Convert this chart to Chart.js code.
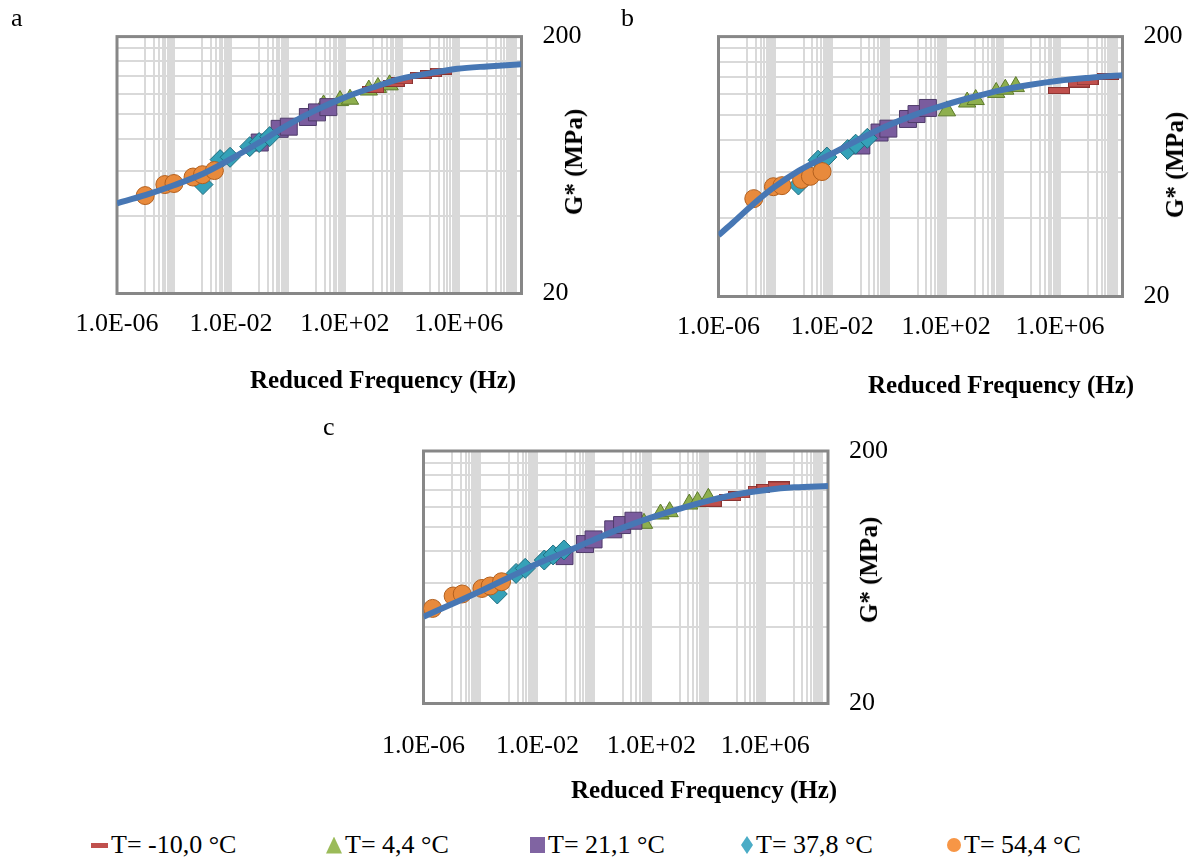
<!DOCTYPE html>
<html>
<head>
<meta charset="utf-8">
<script src="https://cdn.jsdelivr.net/npm/chart.js@4/dist/chart.umd.min.js"></script>
<style>
  body { margin: 0; width: 1192px; height: 858px; background: #fff; position: relative; overflow: hidden;
         font-family: "Liberation Serif", "Times New Roman", serif; color: #000; }
  .box { position: absolute; }
  .panel { position: absolute; font-size: 26px; }
  .xt { position: absolute; font-weight: bold; font-size: 25px; white-space: nowrap; transform: translate(-50%, -50%); }
  .yt { position: absolute; font-weight: bold; font-size: 25px; white-space: nowrap; transform: translate(-50%, -50%) rotate(-90deg); }
  .leg { position: absolute; top: 830px; font-size: 26px; white-space: nowrap; display: flex; align-items: center; }
  .mk { display: inline-block; margin-right: 3px; }
</style>
</head>
<body>
<div class="box" id="boxA"><canvas id="chartA"></canvas></div>
<div class="box" id="boxB"><canvas id="chartB"></canvas></div>
<div class="box" id="boxC"><canvas id="chartC"></canvas></div>

<div class="panel" style="left:11px;top:3px">a</div>
<div class="panel" style="left:621px;top:3px">b</div>
<div class="panel" style="left:323px;top:412px">c</div>

<div class="xt" style="left:383px;top:380px">Reduced Frequency (Hz)</div>
<div class="xt" style="left:1001px;top:385px">Reduced Frequency (Hz)</div>
<div class="xt" style="left:704px;top:790px">Reduced Frequency (Hz)</div>

<div class="yt" style="left:574px;top:162px">G* (MPa)</div>
<div class="yt" style="left:1175px;top:165px">G* (MPa)</div>
<div class="yt" style="left:869px;top:570px">G* (MPa)</div>

<div class="leg" style="left:91px"><span class="mk" style="width:17px;height:5px;background:#C0504D"></span>T= -10,0 °C</div>
<div class="leg" style="left:326px"><span class="mk" style="width:16px;height:17px;background:#9BBB59;clip-path:polygon(50% 0,100% 100%,0 100%)"></span>T= 4,4 °C</div>
<div class="leg" style="left:530px"><span class="mk" style="width:15px;height:16px;background:#8064A2"></span>T= 21,1 °C</div>
<div class="leg" style="left:741px"><span class="mk" style="width:12px;height:18px;background:#4BACC6;clip-path:polygon(50% 0,100% 50%,50% 100%,0 50%)"></span>T= 37,8 °C</div>
<div class="leg" style="left:947px"><span class="mk" style="width:14px;height:14px;border-radius:50%;background:#F79646"></span>T= 54,4 °C</div>

<script>
// axis ticks
const xTickValues = [1e-6, 1e-2, 1e2, 1e6];
const xTickLabels = ['1.0E-06', '1.0E-02', '1.0E+02', '1.0E+06'];
const yTickValues = [20, 200];
const yTickLabels = ['20', '200'];
const yGridValues = [20, 40, 60, 80, 100, 120, 140, 160, 180, 200];

// panel a  (log10 of reduced frequency, G* in MPa)
const aM10LogF = [2.99, 3.71, 4.00, 4.67, 5.02, 5.39];
const aM10G    = [124.6, 131.3, 134.5, 141.4, 143.5, 146.8];
const a4LogF   = [1.25, 1.83, 2.18, 2.84, 3.16, 3.57];
const a4G      = [108.4, 112.7, 114.1, 123.9, 126.8, 129.8];
const a21LogF  = [-0.99, -0.29, 0.03, 0.70, 1.02, 1.42];
const a21G     = [77.4, 87.5, 89.2, 97.3, 101.4, 106.3];
const a37LogF  = [-2.98, -2.38, -2.03, -1.34, -1.01, -0.64];
const a37G     = [53.1, 66.4, 67.8, 74.6, 77.4, 81.6];
const a54LogF  = [-5.01, -4.32, -4.00, -3.33, -3.00, -2.58];
const a54G     = [48.1, 53.1, 53.6, 56.8, 58.0, 60.2];
const aFitLogF = [-6, -5.01, -4, -2.98, -2, -1.01, -0.08, 0.96, 2, 3.05, 3.98, 5.02, 5.95, 6.99, 8.2];
const aFitG    = [44.9, 48.3, 52.8, 58.5, 66.8, 77.4, 89.6, 103.2, 116.0, 127.5, 137.3, 144.2, 149.9, 153.1, 156.0];

// panel b
const bM10LogF = [5.97, 6.67, 6.97, 7.68];
const bM10G    = [124.0, 131.4, 134.0, 140.6];
const b4LogF   = [2.03, 2.74, 3.04, 3.76, 4.08, 4.45];
const b4G      = [103.6, 112.0, 114.5, 122.0, 125.5, 128.4];
const b21LogF  = [-0.98, -0.34, -0.03, 0.66, 0.96, 1.36];
const b21G     = [76.2, 85.5, 88.5, 96.4, 100.7, 106.3];
const b37LogF  = [-3.19, -2.50, -2.19, -1.46, -1.18, -0.77];
const b37G     = [53.7, 66.9, 68.8, 73.5, 77.1, 81.2];
const b54LogF  = [-4.76, -4.07, -3.77, -3.08, -2.77, -2.36];
const b54G     = [47.6, 52.9, 53.4, 56.4, 58.0, 60.5];
const bFitLogF = [-6, -5.48, -4.79, -4.09, -3.17, -2.07, -1.09, -0.17, 0.87, 1.91, 2.95, 3.99, 4.91, 5.95, 6.99, 8.2];
const bFitG    = [34.4, 38.6, 45.2, 52.2, 61.0, 70.4, 80.1, 89.8, 99.8, 108.8, 117.1, 124.8, 130.2, 135.2, 138.7, 142.0];

// panel c
const cM10LogF = [4.08, 4.77, 5.08, 5.77, 6.07, 6.47];
const cM10G    = [124.1, 131.0, 133.9, 141.0, 143.6, 146.7];
const c4LogF   = [1.74, 2.32, 2.64, 3.33, 3.62, 4.00];
const c4G      = [103.4, 112.6, 115.0, 123.3, 126.0, 129.9];
const c21LogF  = [-1.05, -0.33, -0.03, 0.66, 0.97, 1.37];
const c21G     = [76.7, 85.6, 89.3, 97.9, 101.8, 105.9];
const c37LogF  = [-3.41, -2.75, -2.43, -1.76, -1.45, -1.07];
const c37G     = [54.3, 65.5, 68.6, 74.0, 77.5, 81.1];
const c54LogF  = [-5.68, -4.96, -4.64, -3.95, -3.66, -3.26];
const c54G     = [47.6, 53.3, 54.3, 57.1, 58.4, 60.7];
const cFitLogF = [-6, -4.96, -3.93, -2.95, -1.97, -0.99, 0, 1.03, 2.01, 3.04, 4.02, 5.06, 6.04, 7.02, 8.2];
const cFitG    = [44.1, 49.8, 56.2, 63.5, 71.8, 79.8, 89.3, 99.7, 109.2, 118.6, 127.2, 135.1, 140.2, 143.6, 145.3];

// vertical gridlines: 10^even, and 1..9 x 10^odd in between
const xGridValues = [];
for (let e = -6; e <= 8; e += 2) {
    xGridValues.push(Math.pow(10, e));
    if (e < 8) {
        for (let n = 1; n <= 9; n++) xGridValues.push(n * Math.pow(10, e + 1));
    }
}

const pts = (lf, g) => lf.map((v, i) => ({ x: Math.pow(10, v), y: g[i] }));

// red dash marker
const redDash = document.createElement('canvas');
redDash.width = 22; redDash.height = 7;
(function () {
    const c = redDash.getContext('2d');
    c.fillStyle = '#C0504D';
    c.fillRect(0.5, 0.5, 21, 6);
    c.strokeStyle = '#8A3432';
    c.lineWidth = 1;
    c.strokeRect(0.5, 0.5, 21, 6);
})();

const framePlugin = {
    id: 'frame',
    beforeDatasetsDraw(chart) {
        const a = chart.chartArea, ctx = chart.ctx;
        ctx.save();
        ctx.strokeStyle = '#878787';
        ctx.lineWidth = 3;
        ctx.strokeRect(a.left, a.top, a.right - a.left, a.bottom - a.top);
        ctx.restore();
    }
};

const nearTick = (value, list) => list.findIndex(v => Math.abs(Math.log10(v) - Math.log10(value)) < 1e-6);

function makePanel(id, boxId, box, plot, xPad, s) {
    const boxEl = document.getElementById(boxId);
    boxEl.style.left = box.left + 'px';
    boxEl.style.top = box.top + 'px';
    const el = document.getElementById(id);
    el.width = box.width;
    el.height = box.height;

    const datasets = [
        { data: pts(s.fitLf, s.fitG), showLine: true, pointRadius: 0, borderColor: '#4777B4', borderWidth: 6,
          cubicInterpolationMode: 'monotone', order: 0 },
        { data: pts(s.t54Lf, s.t54G), pointStyle: 'circle', pointRadius: 9,
          backgroundColor: '#E88A3C', borderColor: '#B3601E', borderWidth: 1, order: 1 },
        { data: pts(s.t37Lf, s.t37G), pointStyle: 'rectRot', pointRadius: 10,
          backgroundColor: '#35A1B8', borderColor: '#1F6E80', borderWidth: 1, order: 2 },
        { data: pts(s.t21Lf, s.t21G), pointStyle: 'rect', pointRadius: 12,
          backgroundColor: '#7A5C9E', borderColor: '#4F3B6A', borderWidth: 1, order: 3 },
        { data: pts(s.m10Lf, s.m10G), pointStyle: redDash, pointRadius: 10, order: 4 },
        { data: pts(s.t4Lf, s.t4G), pointStyle: 'triangle', pointRadius: 10,
          backgroundColor: '#8EAF4E', borderColor: '#5C7A2A', borderWidth: 1, order: 5 }
    ];

    return new Chart(el, {
        type: 'scatter',
        data: { datasets: datasets },
        plugins: [framePlugin],
        options: {
            responsive: false,
            animation: false,
            devicePixelRatio: 1,
            layout: { padding: { left: plot.left - box.left, top: plot.top - box.top, right: 0, bottom: 0 } },
            plugins: { legend: { display: false }, tooltip: { enabled: false } },
            scales: {
                x: {
                    type: 'logarithmic',
                    min: 1e-6,
                    max: Math.pow(10, 8.2),
                    afterBuildTicks: scale => { scale.ticks = xGridValues.map(v => ({ value: v })); },
                    afterFit: scale => { scale.height = box.top + box.height - plot.bottom; },
                    grid: { color: '#d9d9d9', lineWidth: 2, drawTicks: false },
                    border: { display: false },
                    ticks: {
                        autoSkip: false, maxRotation: 0, padding: xPad, color: '#000',
                        font: { family: 'Liberation Serif', size: 26 },
                        callback: value => { const i = nearTick(value, xTickValues); return i >= 0 ? xTickLabels[i] : ''; }
                    }
                },
                y: {
                    type: 'logarithmic',
                    position: 'right',
                    min: 20,
                    max: 200,
                    afterBuildTicks: scale => { scale.ticks = yGridValues.map(v => ({ value: v })); },
                    afterFit: scale => { scale.width = box.left + box.width - plot.right; },
                    grid: { color: '#d9d9d9', lineWidth: 2, drawTicks: false },
                    border: { display: false },
                    ticks: {
                        autoSkip: false, padding: 21, color: '#000',
                        font: { family: 'Liberation Serif', size: 26 },
                        callback: value => { const i = nearTick(value, yTickValues); return i >= 0 ? yTickLabels[i] : ''; }
                    }
                }
            }
        }
    });
}

makePanel('chartA', 'boxA', { left: 0, top: 0, width: 600, height: 400 },
    { left: 117, top: 32, right: 521.5, bottom: 293.5 }, 15,
    { m10Lf: aM10LogF, m10G: aM10G, t4Lf: a4LogF, t4G: a4G, t21Lf: a21LogF, t21G: a21G,
      t37Lf: a37LogF, t37G: a37G, t54Lf: a54LogF, t54G: a54G, fitLf: aFitLogF, fitG: aFitG });

makePanel('chartB', 'boxB', { left: 600, top: 0, width: 592, height: 400 },
    { left: 718.5, top: 28.5, right: 1122.5, bottom: 296.5 }, 15,
    { m10Lf: bM10LogF, m10G: bM10G, t4Lf: b4LogF, t4G: b4G, t21Lf: b21LogF, t21G: b21G,
      t37Lf: b37LogF, t37G: b37G, t54Lf: b54LogF, t54G: b54G, fitLf: bFitLogF, fitG: bFitG });

makePanel('chartC', 'boxC', { left: 300, top: 400, width: 600, height: 410 },
    { left: 423.5, top: 451, right: 828, bottom: 703.5 }, 27,
    { m10Lf: cM10LogF, m10G: cM10G, t4Lf: c4LogF, t4G: c4G, t21Lf: c21LogF, t21G: c21G,
      t37Lf: c37LogF, t37G: c37G, t54Lf: c54LogF, t54G: c54G, fitLf: cFitLogF, fitG: cFitG });
</script>
</body>
</html>
